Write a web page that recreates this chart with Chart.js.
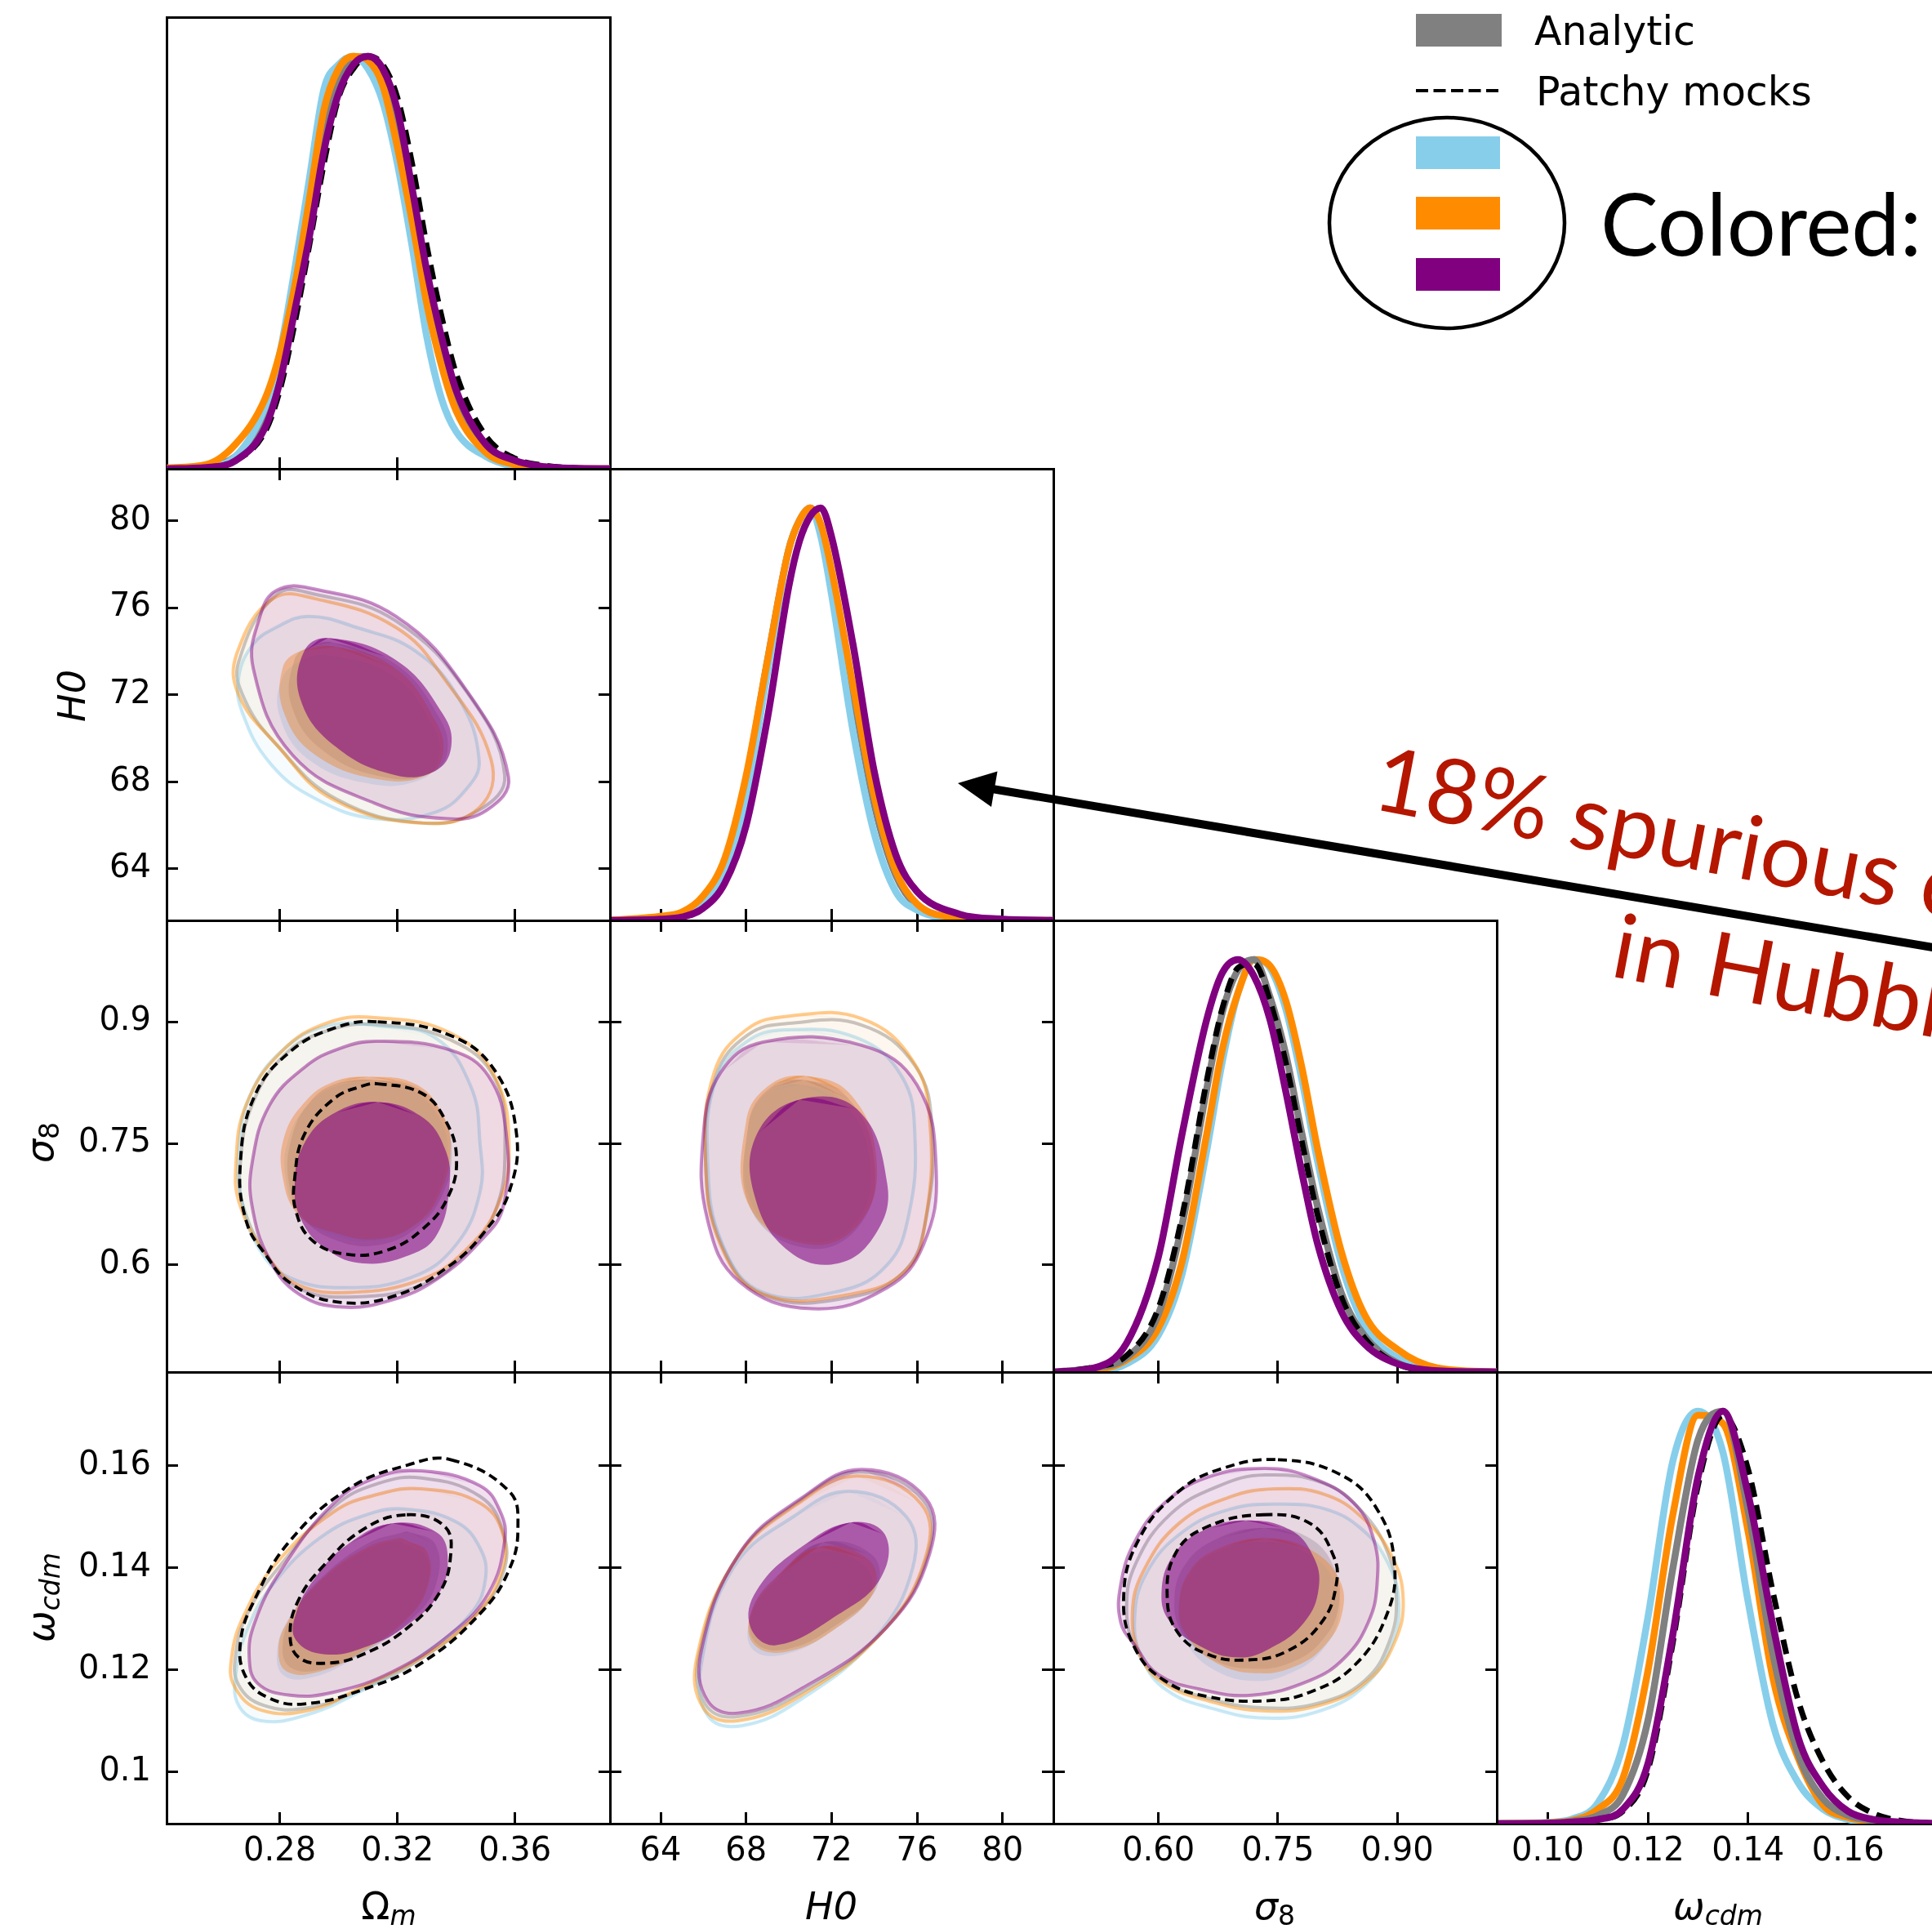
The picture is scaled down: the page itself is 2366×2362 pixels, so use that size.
<!DOCTYPE html>
<html>
<head>
<meta charset="utf-8">
<script src="https://cdn.jsdelivr.net/npm/chart.js@4.4.1/dist/chart.umd.min.js"></script>
<style>
  html, body { margin: 0; padding: 0; background: #fff; overflow: hidden; }
  #wrap { position: relative; width: 2366px; height: 2362px; overflow: hidden; background: #fff; }
  #wrap canvas { position: absolute; z-index: 1; }
  #notes { position: absolute; left: 0; top: 0; z-index: 2; }
</style>
</head>
<body>
<div id="wrap">
<svg id="notes" width="2366" height="2362" viewBox="0 0 2366 2362" xmlns="http://www.w3.org/2000/svg">
  <g font-family="DejaVu Sans" fill="#000">
    <text x="476" y="2350" font-size="46" text-anchor="middle">Ω<tspan font-size="33" font-style="italic" dy="7">m</tspan></text>
    <text x="1018" y="2350" font-size="46" text-anchor="middle" font-style="italic">H0</text>
    <text x="1561" y="2350" font-size="46" text-anchor="middle"><tspan font-style="italic">σ</tspan><tspan font-size="33" dy="7">8</tspan></text>
    <text x="2104" y="2350" font-size="46" text-anchor="middle" font-style="italic">ω<tspan font-size="33" dy="7">cdm</tspan></text>
    <text transform="translate(104 852) rotate(-90)" font-size="46" text-anchor="middle" font-style="italic">H0</text>
    <text transform="translate(65 1399) rotate(-90)" font-size="46" text-anchor="middle"><tspan font-style="italic">σ</tspan><tspan font-size="33" dy="7">8</tspan></text>
    <text transform="translate(66 1956) rotate(-90)" font-size="46" text-anchor="middle" font-style="italic">ω<tspan font-size="33" dy="7">cdm</tspan></text>

    <rect x="1734" y="17" width="105" height="40" fill="#808080"/>
    <text x="1879" y="55" font-size="49">Analytic</text>
    <line x1="1734" y1="111" x2="1839" y2="111" stroke="#000" stroke-width="4" stroke-dasharray="15 6.5"/>
    <text x="1881" y="129" font-size="49">Patchy mocks</text>
    <ellipse cx="1772" cy="273" rx="144" ry="129" fill="none" stroke="#000" stroke-width="4.5"/>
    <rect x="1734" y="167" width="103" height="40" fill="#87ceeb"/>
    <rect x="1734" y="241" width="103" height="40" fill="#ff8c00"/>
    <rect x="1734" y="316" width="103" height="40" fill="#800080"/>
    <text x="1960" y="313" font-family="Lato" font-size="106">Colored:</text>
  </g>
  <line x1="2420" y1="1169" x2="1215" y2="966" stroke="#000" stroke-width="10"/>
  <polygon points="1173,959 1221.5,944.5 1214,988" fill="#000"/>
  <g font-family="Lato" font-size="110" fill="rgb(180,22,0)">
    <text transform="translate(1678 990) rotate(10.7)">18% spurious c</text>
    <text transform="translate(1970 1195) rotate(10.7)">in Hubbl</text>
  </g>
</svg>
</div>
<script>
// axis ranges, tick values and tick labels
const omRange = [0.2415, 0.3923];
const h0Range = [61.63, 82.38];
const s8Range = [0.468, 1.025];
const wcRange = [0.0898, 0.1784];
const pdfTop = 1.095;

const omTicks = [0.28, 0.32, 0.36];
const omTickLabels = ['0.28', '0.32', '0.36'];
const h0Ticks = [64, 68, 72, 76, 80];
const h0TickLabels = ['64', '68', '72', '76', '80'];
const s8Ticks = [0.6, 0.75, 0.9];
const s8TickLabelsX = ['0.60', '0.75', '0.90'];
const s8TickLabelsY = ['0.6', '0.75', '0.9'];
const wcTicks = [0.10, 0.12, 0.14, 0.16];
const wcTickLabelsX = ['0.10', '0.12', '0.14', '0.16'];
const wcTickLabelsY = ['0.1', '0.12', '0.14', '0.16'];

// 1D marginals (peak normalised to 1)
const omGrid   = [0.2415,0.255,0.265,0.275,0.28,0.285,0.29,0.295,0.30,0.305,0.31,0.315,0.32,0.325,0.33,0.335,0.34,0.35,0.36,0.37,0.38,0.3923];
const omSky    = [0,0.005,0.03,0.15,0.28,0.48,0.70,0.92,0.98,1.0,0.97,0.89,0.74,0.54,0.32,0.17,0.09,0.03,0.005,0,0,0];
const omOrange = [0.002,0.01,0.06,0.17,0.28,0.44,0.65,0.87,0.97,1.0,0.99,0.93,0.78,0.60,0.40,0.25,0.14,0.04,0.01,0.002,0,0];
const omGray   = [0,0.005,0.03,0.12,0.24,0.41,0.60,0.81,0.94,0.99,1.0,0.96,0.84,0.65,0.45,0.29,0.17,0.05,0.015,0.004,0,0];
const omMock   = [0,0.003,0.02,0.09,0.19,0.35,0.54,0.74,0.90,0.97,1.0,0.98,0.90,0.74,0.54,0.37,0.23,0.08,0.025,0.008,0.002,0];
const omPurple = [0,0.003,0.02,0.10,0.21,0.38,0.56,0.77,0.91,0.98,1.0,0.97,0.87,0.68,0.48,0.32,0.19,0.06,0.02,0.005,0.001,0];

const h0Grid   = [61.63,64,65,66,67,68,69,70,70.5,71,71.5,72,73,74,75,76,78,80,82.38];
const h0Sky    = [0,0.003,0.01,0.04,0.12,0.30,0.60,0.90,0.97,1.0,0.93,0.79,0.46,0.21,0.07,0.025,0.002,0,0];
const h0Orange = [0,0.01,0.02,0.06,0.15,0.35,0.63,0.90,0.97,1.0,0.96,0.85,0.57,0.30,0.12,0.04,0.006,0,0];
const h0Gray   = [0,0.005,0.015,0.05,0.14,0.34,0.63,0.90,0.97,1.0,0.95,0.84,0.55,0.28,0.11,0.035,0.005,0,0];
const h0Purple = [0,0.003,0.008,0.03,0.09,0.23,0.49,0.81,0.92,0.98,1.0,0.93,0.67,0.36,0.16,0.07,0.015,0.003,0];

const s8Grid   = [0.468,0.52,0.56,0.60,0.63,0.66,0.68,0.70,0.72,0.74,0.76,0.78,0.80,0.83,0.86,0.90,0.95,1.025];
const s8Sky    = [0,0.002,0.02,0.09,0.24,0.53,0.75,0.92,1.0,0.98,0.88,0.71,0.51,0.26,0.11,0.035,0.005,0];
const s8Orange = [0,0.005,0.03,0.107,0.27,0.57,0.78,0.92,1.0,0.985,0.90,0.74,0.54,0.29,0.135,0.055,0.01,0];
const s8Gray   = [0,0.01,0.035,0.14,0.36,0.68,0.87,0.975,1.0,0.91,0.77,0.58,0.40,0.19,0.085,0.022,0.003,0];
const s8Mock   = [0,0.012,0.04,0.155,0.38,0.70,0.88,0.98,0.99,0.90,0.75,0.56,0.38,0.18,0.08,0.02,0.003,0];
const s8Purple = [0,0.01,0.07,0.28,0.58,0.85,0.967,1.0,0.96,0.855,0.68,0.485,0.31,0.146,0.066,0.02,0.003,0];

const wcGrid   = [0.0898,0.10,0.105,0.11,0.115,0.12,0.125,0.13,0.135,0.14,0.145,0.15,0.155,0.16,0.165,0.17,0.1784];
const wcSky    = [0,0.003,0.012,0.05,0.19,0.50,0.88,1.0,0.90,0.54,0.24,0.10,0.035,0.01,0.003,0,0];
const wcOrange = [0,0.002,0.008,0.035,0.11,0.37,0.75,0.99,0.97,0.71,0.352,0.16,0.045,0.015,0.005,0.001,0];
const wcGray   = [0,0.001,0.006,0.02,0.07,0.25,0.62,0.93,1.0,0.76,0.41,0.17,0.06,0.02,0.007,0.002,0];
const wcMock   = [0,0.001,0.004,0.01,0.03,0.13,0.44,0.82,0.99,0.86,0.56,0.30,0.15,0.065,0.025,0.008,0];
const wcPurple = [0,0.001,0.004,0.01,0.035,0.145,0.46,0.84,1.0,0.80,0.48,0.21,0.09,0.03,0.01,0.004,0];

// 2D contours, [x, y] outline vertices: H0 vs Omega_m
const hOmGrayOuter   = [[0.2660,73.5],[0.2789,76.6],[0.2924,76.6],[0.3194,75.4],[0.3437,72.1],[0.3565,68.3],[0.3478,66.7],[0.3289,66.1],[0.2993,67.2],[0.2789,69.7],[0.2680,71.8]];
const hOmGrayInner   = [[0.2980,74.4],[0.3194,73.4],[0.3340,71.0],[0.3370,69.4],[0.3315,68.4],[0.3160,68.2],[0.2950,69.4],[0.2840,71.5],[0.2850,73.6],[0.2900,74.2]];
const hOmSkyOuter    = [[0.2708,74.3],[0.2789,75.1],[0.2897,75.6],[0.3059,75.1],[0.3262,74.0],[0.3410,71.8],[0.3478,69.0],[0.3437,67.7],[0.3329,66.6],[0.3126,66.3],[0.2924,67.2],[0.2770,68.8],[0.2672,71.2],[0.2660,72.8]];
const hOmSkyInner    = [[0.2960,73.8],[0.3180,72.9],[0.3320,70.6],[0.3340,69.1],[0.3280,68.1],[0.3110,67.9],[0.2900,69.0],[0.2800,71.0],[0.2810,72.8],[0.2880,73.6]];
const hOmOrangeOuter = [[0.2654,73.9],[0.2776,76.4],[0.2924,76.4],[0.3194,75.1],[0.3356,72.8],[0.3519,69.0],[0.3478,66.8],[0.3289,66.1],[0.2979,67.2],[0.2789,69.7],[0.2660,72.0]];
const hOmOrangeInner = [[0.2991,74.2],[0.3194,73.2],[0.3329,70.8],[0.3355,69.3],[0.3301,68.3],[0.3140,68.1],[0.2924,69.2],[0.2816,71.1],[0.2809,73.2],[0.2870,74.0]];
const hOmPurpleOuter = [[0.2790,76.8],[0.2900,76.9],[0.3195,75.6],[0.3440,72.1],[0.3578,68.2],[0.3505,66.7],[0.3370,66.3],[0.3125,67.0],[0.2845,69.2],[0.2710,73.2],[0.2735,75.7]];
const hOmPurpleInner = [[0.2964,74.6],[0.3194,73.6],[0.3355,71.1],[0.3383,69.6],[0.3329,68.5],[0.3194,68.3],[0.2991,69.6],[0.2870,71.8],[0.2883,74.0]];

// sigma_8 vs Omega_m
const sOmGrayOuter   = [[0.3133,0.8965],[0.3381,0.8775],[0.3531,0.8300],[0.3566,0.7438],[0.3531,0.6647],[0.3431,0.6144],[0.3282,0.5749],[0.3034,0.5605],[0.2865,0.5713],[0.2765,0.6072],[0.2676,0.6719],[0.2666,0.7258],[0.2706,0.7977],[0.2815,0.8587],[0.2964,0.8893]];
const sOmGrayInner   = [[0.3120,0.828],[0.3270,0.818],[0.3355,0.784],[0.3385,0.738],[0.3350,0.684],[0.3265,0.646],[0.3140,0.625],[0.2995,0.630],[0.2880,0.658],[0.2830,0.704],[0.2840,0.756],[0.2900,0.800],[0.2995,0.824]];
const sOmSkyOuter    = [[0.3133,0.895],[0.3330,0.880],[0.3450,0.820],[0.3481,0.750],[0.3481,0.690],[0.3400,0.625],[0.3250,0.585],[0.3020,0.572],[0.2830,0.585],[0.2730,0.620],[0.2670,0.680],[0.2660,0.740],[0.2700,0.810],[0.2810,0.865],[0.2960,0.895]];
const sOmSkyInner    = [[0.3110,0.825],[0.3250,0.815],[0.3340,0.782],[0.3370,0.740],[0.3330,0.684],[0.3250,0.648],[0.3120,0.630],[0.2980,0.637],[0.2870,0.660],[0.2820,0.706],[0.2830,0.756],[0.2895,0.797],[0.2990,0.820]];
const sOmOrangeOuter = [[0.3133,0.905],[0.3381,0.886],[0.3531,0.833],[0.3580,0.744],[0.3540,0.672],[0.3431,0.618],[0.3282,0.582],[0.3034,0.566],[0.2865,0.575],[0.2765,0.607],[0.2666,0.672],[0.2651,0.726],[0.2686,0.798],[0.2805,0.863],[0.2964,0.899]];
const sOmOrangeInner = [[0.3103,0.832],[0.3262,0.823],[0.3352,0.787],[0.3381,0.744],[0.3342,0.686],[0.3262,0.650],[0.3133,0.632],[0.2984,0.640],[0.2865,0.661],[0.2810,0.708],[0.2815,0.758],[0.2885,0.801],[0.2984,0.826]];
const sOmPurpleOuter = [[0.3133,0.876],[0.3381,0.865],[0.3510,0.833],[0.3570,0.762],[0.3560,0.672],[0.3481,0.629],[0.3332,0.582],[0.3183,0.557],[0.3014,0.548],[0.2865,0.564],[0.2765,0.607],[0.2706,0.672],[0.2706,0.726],[0.2765,0.797],[0.2885,0.844],[0.3004,0.867]];
const sOmPurpleInner = [[0.3133,0.801],[0.3282,0.783],[0.3361,0.744],[0.3377,0.697],[0.3332,0.636],[0.3232,0.611],[0.3083,0.602],[0.2964,0.618],[0.2875,0.654],[0.2851,0.701],[0.2885,0.751],[0.2984,0.787]];
const sOmMockOuter   = [[0.3133,0.900],[0.3381,0.883],[0.3531,0.840],[0.3605,0.762],[0.3580,0.690],[0.3501,0.643],[0.3381,0.600],[0.3183,0.561],[0.2984,0.555],[0.2835,0.578],[0.2755,0.611],[0.2686,0.654],[0.2666,0.726],[0.2715,0.809],[0.2835,0.863],[0.2984,0.892]];
const sOmMockInner   = [[0.3133,0.8235],[0.3282,0.812],[0.3361,0.780],[0.3401,0.733],[0.3371,0.683],[0.3282,0.643],[0.3163,0.618],[0.3034,0.613],[0.2915,0.629],[0.2856,0.665],[0.2851,0.708],[0.2885,0.762],[0.2984,0.805],[0.3083,0.821]];

// sigma_8 vs H0
const sH0GrayOuter   = [[70.0,0.898],[73.4,0.896],[75.9,0.846],[76.7,0.770],[76.4,0.655],[75.4,0.592],[72.8,0.560],[68.9,0.562],[66.9,0.622],[66.1,0.730],[66.6,0.834],[68.1,0.884]];
const sH0GrayInner   = [[70.7,0.828],[72.8,0.805],[74.0,0.728],[73.4,0.652],[71.1,0.620],[68.3,0.665],[68.1,0.772],[69.1,0.818]];
const sH0SkyOuter    = [[69.8,0.890],[73.2,0.880],[75.3,0.832],[75.9,0.760],[75.6,0.660],[74.6,0.600],[72.4,0.568],[68.8,0.566],[66.9,0.625],[66.2,0.730],[66.6,0.830],[68.0,0.875]];
const sH0SkyInner    = [[70.6,0.822],[72.6,0.800],[73.8,0.725],[73.2,0.655],[71.0,0.628],[68.4,0.668],[68.1,0.770],[69.1,0.815]];
const sH0OrangeOuter = [[70.0,0.907],[73.4,0.904],[75.8,0.852],[76.6,0.777],[76.4,0.655],[75.5,0.594],[72.9,0.564],[68.8,0.564],[66.8,0.625],[66.1,0.731],[66.5,0.837],[68.0,0.890]];
const sH0OrangeInner = [[70.8,0.833],[72.9,0.810],[74.1,0.731],[73.4,0.655],[71.1,0.625],[68.2,0.670],[68.0,0.777],[69.1,0.822]];
const sH0PurpleOuter = [[68.8,0.875],[73.4,0.871],[76.0,0.822],[76.9,0.716],[76.3,0.625],[74.6,0.572],[71.1,0.546],[67.7,0.579],[66.2,0.655],[66.0,0.761],[66.8,0.837]];
const sH0PurpleInner = [[70.5,0.804],[73.2,0.792],[74.6,0.701],[74.1,0.640],[72.3,0.602],[70.0,0.617],[68.4,0.685],[68.5,0.761]];

// omega_cdm vs Omega_m
const wOmGrayOuter   = [[0.3282,0.1576],[0.3481,0.1540],[0.3560,0.1470],[0.3560,0.1390],[0.3470,0.1308],[0.3282,0.1222],[0.3083,0.1163],[0.2895,0.1125],[0.2745,0.1130],[0.2660,0.1170],[0.2650,0.1230],[0.2690,0.1310],[0.2795,0.1400],[0.2984,0.1520],[0.3133,0.1565]];
const wOmGrayInner   = [[0.3240,0.1470],[0.3330,0.1445],[0.3330,0.1365],[0.3250,0.1300],[0.3090,0.1235],[0.2940,0.1200],[0.2835,0.1205],[0.2810,0.1250],[0.2850,0.1315],[0.2950,0.1385],[0.3100,0.1448],[0.3210,0.1468]];
const wOmSkyOuter    = [[0.3232,0.1515],[0.3400,0.1490],[0.3480,0.1440],[0.3500,0.1380],[0.3450,0.1310],[0.3282,0.1228],[0.3083,0.1160],[0.2885,0.1110],[0.2735,0.1100],[0.2660,0.1130],[0.2650,0.1190],[0.2690,0.1280],[0.2780,0.1370],[0.2940,0.1460],[0.3100,0.1505]];
const wOmSkyInner    = [[0.3230,0.1445],[0.3300,0.1420],[0.3290,0.1350],[0.3210,0.1290],[0.3060,0.1225],[0.2910,0.1185],[0.2815,0.1188],[0.2790,0.1230],[0.2825,0.1295],[0.2930,0.1368],[0.3080,0.1430],[0.3190,0.1452]];
const wOmOrangeOuter = [[0.3282,0.1555],[0.3481,0.1527],[0.3560,0.1464],[0.3550,0.1384],[0.3461,0.1304],[0.3282,0.1224],[0.3083,0.1167],[0.2905,0.1121],[0.2735,0.1121],[0.2646,0.1167],[0.2636,0.1224],[0.2676,0.1304],[0.2785,0.1407],[0.2984,0.1510],[0.3133,0.1544]];
const wOmOrangeInner = [[0.3232,0.1453],[0.3302,0.1430],[0.3302,0.1361],[0.3232,0.1299],[0.3083,0.1236],[0.2934,0.1196],[0.2825,0.1196],[0.2795,0.1236],[0.2825,0.1293],[0.2934,0.1373],[0.3083,0.1436],[0.3203,0.1458]];
const wOmPurpleOuter = [[0.3282,0.1590],[0.3481,0.1561],[0.3550,0.1510],[0.3565,0.1453],[0.3510,0.1350],[0.3381,0.1270],[0.3183,0.1196],[0.2984,0.1156],[0.2835,0.1150],[0.2725,0.1173],[0.2696,0.1224],[0.2715,0.1293],[0.2805,0.1396],[0.2984,0.1527],[0.3133,0.1578]];
const wOmPurpleInner = [[0.3183,0.1487],[0.3332,0.1470],[0.3371,0.1424],[0.3342,0.1350],[0.3232,0.1287],[0.3103,0.1247],[0.2954,0.1230],[0.2855,0.1258],[0.2855,0.1310],[0.2925,0.1384],[0.3034,0.1447]];
const wOmMockOuter   = [[0.3381,0.1612],[0.3580,0.1550],[0.3610,0.1481],[0.3580,0.1396],[0.3481,0.1310],[0.3282,0.1213],[0.3083,0.1161],[0.2885,0.1133],[0.2765,0.1144],[0.2686,0.1184],[0.2666,0.1253],[0.2715,0.1338],[0.2835,0.1453],[0.3034,0.1555],[0.3232,0.1601]];
const wOmMockInner   = [[0.3232,0.1504],[0.3361,0.1481],[0.3381,0.1424],[0.3342,0.1350],[0.3232,0.1281],[0.3083,0.1230],[0.2964,0.1213],[0.2865,0.1224],[0.2835,0.1270],[0.2865,0.1338],[0.2944,0.1401],[0.3083,0.1475]];

// omega_cdm vs H0
const wH0GrayOuter   = [[73.3,0.1588],[76.3,0.1532],[76.5,0.1425],[74.5,0.1280],[70.6,0.1156],[67.6,0.1108],[66.1,0.1132],[65.8,0.1230],[67.6,0.1422],[70.5,0.1531]];
const wH0GrayInner   = [[71.6,0.1450],[73.9,0.1425],[74.1,0.1360],[72.3,0.1290],[69.9,0.1240],[68.4,0.1255],[68.3,0.1320],[69.6,0.1390]];
const wH0SkyOuter    = [[72.8,0.1550],[75.5,0.1500],[75.8,0.1400],[74.0,0.1260],[70.5,0.1140],[67.8,0.1090],[66.2,0.1110],[65.9,0.1210],[67.4,0.1400],[70.2,0.1500]];
const wH0SkyInner    = [[71.3,0.1430],[73.5,0.1405],[73.8,0.1345],[72.1,0.1278],[69.8,0.1230],[68.3,0.1240],[68.2,0.1300],[69.3,0.1370]];
const wH0OrangeOuter = [[73.2,0.1580],[76.2,0.1525],[76.4,0.1420],[74.4,0.1275],[70.6,0.1150],[67.6,0.1100],[66.0,0.1125],[65.7,0.1225],[67.5,0.1415],[70.4,0.1525]];
const wH0OrangeInner = [[71.4,0.1441],[73.7,0.1417],[74.0,0.1356],[72.3,0.1284],[70.0,0.1236],[68.4,0.1248],[68.2,0.1308],[69.4,0.1380]];
const wH0PurpleOuter = [[73.4,0.1593],[76.4,0.1537],[76.6,0.1429],[74.6,0.1284],[70.6,0.1163],[67.7,0.1115],[66.2,0.1139],[65.9,0.1236],[67.7,0.1429],[70.6,0.1537]];
const wH0PurpleInner = [[72.9,0.1489],[74.5,0.1465],[74.3,0.1380],[72.3,0.1308],[69.4,0.1248],[68.2,0.1284],[68.5,0.1356],[70.6,0.1441]];

// omega_cdm vs sigma_8
const wS8GrayOuter   = [[0.7340,0.1582],[0.8087,0.1565],[0.8560,0.1510],[0.8880,0.1430],[0.8990,0.1340],[0.8900,0.1255],[0.8600,0.1180],[0.8050,0.1136],[0.7330,0.1125],[0.6600,0.1145],[0.6050,0.1180],[0.5720,0.1240],[0.5600,0.1320],[0.5720,0.1410],[0.6150,0.1505],[0.6750,0.1560]];
const wS8GrayInner   = [[0.7330,0.1478],[0.7900,0.1458],[0.8220,0.1395],[0.8260,0.1322],[0.8060,0.1258],[0.7680,0.1215],[0.7180,0.1202],[0.6680,0.1220],[0.6320,0.1268],[0.6200,0.1330],[0.6330,0.1405],[0.6750,0.1458]];
const wS8SkyOuter    = [[0.7500,0.1525],[0.8100,0.1515],[0.8560,0.1475],[0.8880,0.1410],[0.9020,0.1330],[0.8930,0.1250],[0.8600,0.1170],[0.8050,0.1120],[0.7350,0.1105],[0.6650,0.1125],[0.6100,0.1160],[0.5800,0.1220],[0.5700,0.1300],[0.5850,0.1390],[0.6300,0.1470],[0.6900,0.1515]];
const wS8SkyInner    = [[0.7350,0.1450],[0.7880,0.1428],[0.8220,0.1370],[0.8260,0.1300],[0.8040,0.1235],[0.7680,0.1195],[0.7220,0.1178],[0.6720,0.1198],[0.6360,0.1250],[0.6250,0.1312],[0.6400,0.1390],[0.6800,0.1435]];
const wS8OrangeOuter = [[0.7465,0.1555],[0.8087,0.1544],[0.8563,0.1498],[0.8928,0.1424],[0.9075,0.1338],[0.8965,0.1253],[0.8636,0.1179],[0.8087,0.1133],[0.7356,0.1119],[0.6623,0.1139],[0.6074,0.1173],[0.5782,0.1224],[0.5672,0.1310],[0.5819,0.1396],[0.6257,0.1487],[0.6879,0.1538]];
const wS8OrangeInner = [[0.7356,0.1458],[0.7904,0.1436],[0.8270,0.1378],[0.8306,0.1310],[0.8087,0.1247],[0.7721,0.1207],[0.7245,0.1193],[0.6733,0.1213],[0.6367,0.1264],[0.6257,0.1321],[0.6404,0.1396],[0.6806,0.1441]];
const wS8PurpleOuter = [[0.7338,0.1595],[0.7904,0.1578],[0.8453,0.1527],[0.8709,0.1453],[0.8746,0.1367],[0.8636,0.1293],[0.8343,0.1224],[0.7904,0.1179],[0.7172,0.1150],[0.6514,0.1162],[0.6001,0.1190],[0.5708,0.1247],[0.5526,0.1293],[0.5526,0.1367],[0.5708,0.1453],[0.6074,0.1527],[0.6623,0.1578]];
const wS8PurpleInner = [[0.7099,0.1493],[0.7648,0.1475],[0.7940,0.1424],[0.8014,0.1361],[0.7831,0.1293],[0.7392,0.1241],[0.6989,0.1224],[0.6514,0.1247],[0.6148,0.1293],[0.6038,0.1350],[0.6184,0.1424],[0.6587,0.1475]];
const wS8MockOuter   = [[0.7501,0.1612],[0.8270,0.1584],[0.8746,0.1515],[0.8965,0.1407],[0.8856,0.1303],[0.8453,0.1207],[0.7904,0.1156],[0.7356,0.1139],[0.6623,0.1147],[0.6074,0.1179],[0.5708,0.1241],[0.5562,0.1338],[0.5745,0.1453],[0.6257,0.1550],[0.6806,0.1595]];
const wS8MockInner   = [[0.7319,0.1504],[0.7904,0.1487],[0.8197,0.1424],[0.8234,0.1367],[0.8050,0.1293],[0.7611,0.1236],[0.7099,0.1219],[0.6623,0.1230],[0.6257,0.1270],[0.6111,0.1338],[0.6221,0.1430],[0.6623,0.1481]];

// layout of the grid of panels (page pixels)
const PW = 543, PH = 553, ML = 200, MR = 20, MT = 20, MB = 150;
const colLeft = [204, 747, 1290, 1833];
const rowTop = [21, 574, 1127, 1680];

const sky = '135,206,235', orange = '255,140,0', purple = '128,0,128', gray = '128,128,128';
const outerAlpha = { [gray]: 0.02, [sky]: 0.08, [orange]: 0.05, [purple]: 0.12 };
const innerAlpha = { [gray]: 0.3, [sky]: 0.25, [orange]: 0.38, [purple]: 0.58 };

const omAxis = { range: omRange, ticks: omTicks, xLabels: omTickLabels, yLabels: omTickLabels };
const h0Axis = { range: h0Range, ticks: h0Ticks, xLabels: h0TickLabels, yLabels: h0TickLabels };
const s8Axis = { range: s8Range, ticks: s8Ticks, xLabels: s8TickLabelsX, yLabels: s8TickLabelsY };
const wcAxis = { range: wcRange, ticks: wcTicks, xLabels: wcTickLabelsX, yLabels: wcTickLabelsY };
const pdfAxis = { range: [0, pdfTop], ticks: [0.5] };

function axis(pos, ax, labels, withTicks) {
  const horiz = pos === 'top' || pos === 'bottom';
  const size = { bottom: MB, top: MT, left: ML, right: MR }[pos];
  return {
    type: 'linear', position: pos, min: ax.range[0], max: ax.range[1],
    afterBuildTicks: s => { s.ticks = ax.ticks.map(v => ({ value: v })); },
    afterFit: s => {
      if (horiz) s.height = size; else s.width = size;
      s.paddingLeft = s.paddingRight = s.paddingTop = s.paddingBottom = 0;
    },
    ticks: {
      display: !!labels, autoSkip: false, maxRotation: 0, minRotation: 0,
      padding: horiz ? 25 : 33, color: '#000',
      font: { family: 'DejaVu Sans', size: 40 },
      callback: (v, i) => labels ? labels[i] : ''
    },
    grid: { drawOnChartArea: false, drawTicks: withTicks, tickLength: -14, tickWidth: 3, tickColor: '#000' },
    border: { display: true, width: 3, color: '#000' }
  };
}

function pdf(grid, ys, rgb, dashed) {
  return {
    data: grid.map((x, i) => ({ x, y: ys[i] })),
    showLine: true, fill: false, pointRadius: 0,
    borderColor: dashed ? '#000' : `rgb(${rgb})`,
    borderWidth: dashed ? 7 : 8.5,
    borderDash: dashed ? [18, 10] : [],
    cubicInterpolationMode: 'monotone'
  };
}

// closed smooth outline: wrap the vertex list so every drawn piece has both neighbours
function contour(pts, rgb, fillA, lineA, lineW, dash) {
  const n = pts.length;
  const data = [pts[n - 1], ...pts, pts[0], pts[1]].map(p => ({ x: p[0], y: p[1] }));
  const last = data.length - 1;
  return {
    data, showLine: true, pointRadius: 0, tension: 0.42,
    borderColor: lineA > 0 ? `rgba(${rgb},${lineA})` : 'rgba(0,0,0,0)',
    borderWidth: lineW, borderDash: dash || [],
    backgroundColor: `rgba(${rgb},${fillA})`,
    fill: fillA > 0 ? 'shape' : false,
    segment: { borderColor: c => (c.p0DataIndex === 0 || c.p1DataIndex === last) ? 'rgba(0,0,0,0)' : undefined }
  };
}

function filled(outer, inner, rgb) {
  return [
    contour(outer, rgb, outerAlpha[rgb], 0.45, 4),
    contour(inner, rgb, innerAlpha[rgb], 0, 0)
  ];
}

function mock(outer, inner) {
  return [
    contour(outer, '0,0,0', 0, 1, 3.8, [11, 6]),
    contour(inner, '0,0,0', 0, 1, 3.8, [11, 6])
  ];
}

const wrap = document.getElementById('wrap');

function panel(row, col, xAx, yAx, layers, diag) {
  const cv = document.createElement('canvas');
  cv.width = PW + ML + MR;
  cv.height = PH + MT + MB;
  cv.style.left = (colLeft[col] - ML) + 'px';
  cv.style.top = (rowTop[row] - MT) + 'px';
  wrap.appendChild(cv);
  new Chart(cv, {
    type: 'scatter',
    // first dataset is painted last, so flip the bottom-to-top list
    data: { datasets: layers.slice().reverse() },
    options: {
      responsive: false, animation: false, devicePixelRatio: 1, events: [],
      layout: { padding: 0 },
      plugins: { legend: { display: false }, tooltip: { enabled: false } },
      scales: {
        x: axis('bottom', xAx, row === 3 ? xAx.xLabels : null, true),
        x2: axis('top', xAx, null, !diag),
        y: axis('left', yAx, (col === 0 && !diag) ? yAx.yLabels : null, !diag),
        y2: axis('right', yAx, null, !diag)
      }
    }
  });
}

// diagonal: 1D marginals (bottom to top)
panel(0, 0, omAxis, pdfAxis, [
  pdf(omGrid, omGray, gray), pdf(omGrid, omSky, sky), pdf(omGrid, omOrange, orange),
  pdf(omGrid, omMock, null, true), pdf(omGrid, omPurple, purple)
], true);
panel(1, 1, h0Axis, pdfAxis, [
  pdf(h0Grid, h0Gray, gray), pdf(h0Grid, h0Sky, sky), pdf(h0Grid, h0Orange, orange), pdf(h0Grid, h0Purple, purple)
], true);
panel(2, 2, s8Axis, pdfAxis, [
  pdf(s8Grid, s8Sky, sky), pdf(s8Grid, s8Orange, orange), pdf(s8Grid, s8Gray, gray),
  pdf(s8Grid, s8Mock, null, true), pdf(s8Grid, s8Purple, purple)
], true);
panel(3, 3, wcAxis, pdfAxis, [
  pdf(wcGrid, wcSky, sky), pdf(wcGrid, wcOrange, orange), pdf(wcGrid, wcGray, gray),
  pdf(wcGrid, wcMock, null, true), pdf(wcGrid, wcPurple, purple)
], true);

// off-diagonal: 2D contours
panel(1, 0, omAxis, h0Axis, [
  ...filled(hOmGrayOuter, hOmGrayInner, gray), ...filled(hOmSkyOuter, hOmSkyInner, sky),
  ...filled(hOmOrangeOuter, hOmOrangeInner, orange), ...filled(hOmPurpleOuter, hOmPurpleInner, purple)
]);
panel(2, 0, omAxis, s8Axis, [
  ...filled(sOmGrayOuter, sOmGrayInner, gray), ...filled(sOmSkyOuter, sOmSkyInner, sky),
  ...filled(sOmOrangeOuter, sOmOrangeInner, orange), ...filled(sOmPurpleOuter, sOmPurpleInner, purple),
  ...mock(sOmMockOuter, sOmMockInner)
]);
panel(2, 1, h0Axis, s8Axis, [
  ...filled(sH0GrayOuter, sH0GrayInner, gray), ...filled(sH0SkyOuter, sH0SkyInner, sky),
  ...filled(sH0OrangeOuter, sH0OrangeInner, orange), ...filled(sH0PurpleOuter, sH0PurpleInner, purple)
]);
panel(3, 0, omAxis, wcAxis, [
  ...filled(wOmGrayOuter, wOmGrayInner, gray), ...filled(wOmSkyOuter, wOmSkyInner, sky),
  ...filled(wOmOrangeOuter, wOmOrangeInner, orange), ...filled(wOmPurpleOuter, wOmPurpleInner, purple),
  ...mock(wOmMockOuter, wOmMockInner)
]);
panel(3, 1, h0Axis, wcAxis, [
  ...filled(wH0GrayOuter, wH0GrayInner, gray), ...filled(wH0SkyOuter, wH0SkyInner, sky),
  ...filled(wH0OrangeOuter, wH0OrangeInner, orange), ...filled(wH0PurpleOuter, wH0PurpleInner, purple)
]);
panel(3, 2, s8Axis, wcAxis, [
  ...filled(wS8GrayOuter, wS8GrayInner, gray), ...filled(wS8SkyOuter, wS8SkyInner, sky),
  ...filled(wS8OrangeOuter, wS8OrangeInner, orange), ...filled(wS8PurpleOuter, wS8PurpleInner, purple),
  ...mock(wS8MockOuter, wS8MockInner)
]);
</script>
</body>
</html>
